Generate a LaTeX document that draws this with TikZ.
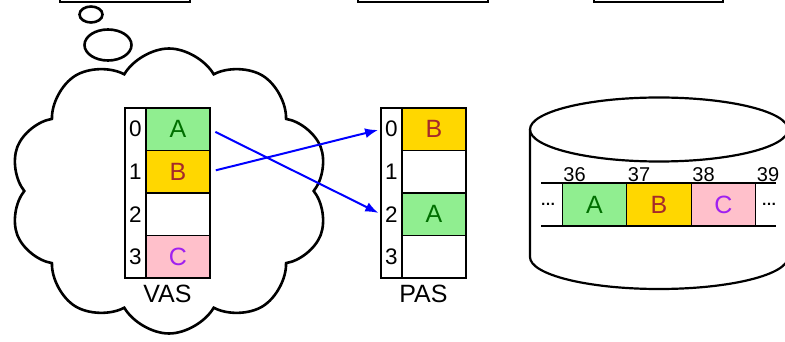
\documentclass[tikz,border=0pt]{standalone}
\usepackage{fontspec}
\setmainfont{Liberation Sans}
\usetikzlibrary{positioning,shapes.symbols,shapes.geometric,arrows.meta}
\definecolor{pagegreen}{RGB}{144,238,144}
\definecolor{pagegold}{RGB}{255,215,0}
\definecolor{pagepink}{RGB}{255,192,203}
\definecolor{txtgreen}{RGB}{0,110,0}
\definecolor{txtbrown}{RGB}{165,42,42}
\definecolor{txtpurple}{RGB}{160,32,240}

\begin{document}
\begin{tikzpicture}[x=1pt,y=-1pt,
		cellnode/.style={draw,line width=1.2pt,inner sep=0pt,outer sep=0pt,minimum width=64pt,minimum height=42.5pt,font=\fontsize{25}{25}\selectfont},
		idxnode/.style={inner sep=0pt,outer sep=0pt,minimum width=21pt,minimum height=42.5pt,font=\fontsize{22.5}{22.5}\selectfont},
		pagea/.style={cellnode,fill=pagegreen,text=txtgreen},
		pageb/.style={cellnode,fill=pagegold,text=txtbrown},
		pagec/.style={cellnode,fill=pagepink,text=txtpurple},
		bubble/.style={ellipse,draw,line width=2.6pt,inner sep=0pt},
		maparrow/.style={blue,line width=2pt,-{Latex[length=13pt,width=10pt]}},
		numnode/.style={anchor=south west,inner sep=1pt,font=\fontsize{20}{20}\selectfont}]
	\useasboundingbox (0,0) rectangle (785,342);

	% boxes cut off at the top
	\draw[line width=2pt] (60,-30) rectangle (190,2);
	\draw[line width=2pt] (358,-30) rectangle (488,2);
	\draw[line width=2pt] (594,-30) rectangle (723,2);

	% thought cloud
	\node[bubble,minimum width=23pt,minimum height=16pt]	(bubble1)	at (91,14.5)	{};
	\node[bubble,minimum width=47pt,minimum height=31pt]	(bubble2)	at (108,45)		{};
	\node[cloud,draw,line width=2.6pt,cloud puffs=10,cloud puff arc=120,aspect=1.1,minimum width=319pt,minimum height=285pt] (thought) at (169,191) {};

	% virtual address space
	\node[pagea]							(vas0)	at (178,129.25)	{A};
	\node[pageb,node distance=0pt,below=of vas0]	(vas1)	{B};
	\node[cellnode,node distance=0pt,below=of vas1]	(vas2)	{};
	\node[pagec,node distance=0pt,below=of vas2]	(vas3)	{C};
	\node[idxnode,node distance=0pt,left=of vas0]	(vasi0)	{0};
	\node[idxnode,node distance=0pt,left=of vas1]	(vasi1)	{1};
	\node[idxnode,node distance=0pt,left=of vas2]	(vasi2)	{2};
	\node[idxnode,node distance=0pt,left=of vas3]	(vasi3)	{3};
	\draw[line width=2.2pt] (vasi0.north west) rectangle (vas3.south east);
	\node[font=\fontsize{25}{25}\selectfont,inner sep=0pt] (vaslabel) at (167.5,294) {VAS};

	% physical address space
	\node[pageb]							(pas0)	at (434,129.25)	{B};
	\node[cellnode,node distance=0pt,below=of pas0]	(pas1)	{};
	\node[pagea,node distance=0pt,below=of pas1]	(pas2)	{A};
	\node[cellnode,node distance=0pt,below=of pas2]	(pas3)	{};
	\node[idxnode,node distance=0pt,left=of pas0]	(pasi0)	{0};
	\node[idxnode,node distance=0pt,left=of pas1]	(pasi1)	{1};
	\node[idxnode,node distance=0pt,left=of pas2]	(pasi2)	{2};
	\node[idxnode,node distance=0pt,left=of pas3]	(pasi3)	{3};
	\draw[line width=2.2pt] (pasi0.north west) rectangle (pas3.south east);
	\node[font=\fontsize{25}{25}\selectfont,inner sep=0pt] (paslabel) at (423.5,294) {PAS};

	\draw[maparrow,shorten <=6pt,shorten >=3pt] (vas0.east) -- (pasi2.west);
	\draw[maparrow,shorten <=6pt,shorten >=3pt] (vas1.east) -- (pasi0.west);

	% disk
	\draw[line width=2.2pt,fill=white] (530,129.5) -- (530,257) arc[start angle=180,end angle=360,x radius=129pt,y radius=32pt] -- (788,129.5);
	\draw[line width=2.2pt] (659,129.5) ellipse [x radius=129pt,y radius=32pt];
	\draw[line width=1.3pt] (541,183) -- (776,183);
	\draw[line width=1.3pt] (541,226) -- (776,226);
	\node[pagea,minimum width=64.5pt,minimum height=43pt]				(blk36)	at (594.5,204.5)	{A};
	\node[pageb,minimum width=64.5pt,minimum height=43pt,node distance=0pt,right=of blk36]	(blk37)	{B};
	\node[pagec,minimum width=64.5pt,minimum height=43pt,node distance=0pt,right=of blk37]	(blk38)	{C};
	\node[numnode]	(num36)	at (blk36.north west)	{36};
	\node[numnode]	(num37)	at (blk37.north west)	{37};
	\node[numnode]	(num38)	at (blk38.north west)	{38};
	\node[numnode]	(num39)	at (blk38.north east)	{39};
	\node[font=\bfseries\fontsize{15}{15}\selectfont,inner sep=0pt]	(ldots)	at (548,204)	{…};
	\node[font=\bfseries\fontsize{15}{15}\selectfont,inner sep=0pt]	(rdots)	at (769,204)	{…};
\end{tikzpicture}
\end{document}
